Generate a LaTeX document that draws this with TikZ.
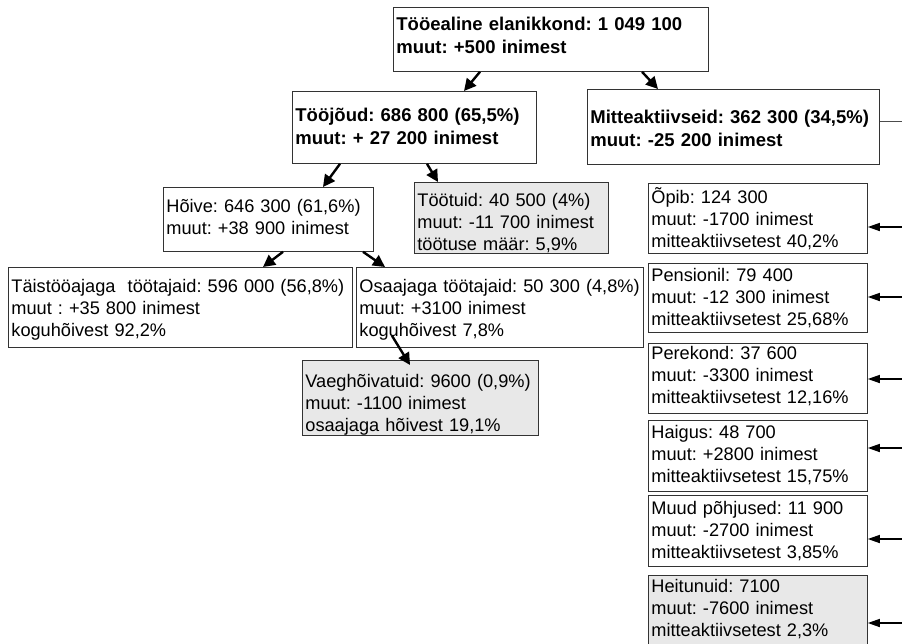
\documentclass[tikz,border=0pt]{standalone}
\usepackage{fontspec}
\setmainfont{Liberation Sans}
\usepackage{tikz}
\usetikzlibrary{arrows.meta, calc}
\frenchspacing

\begin{document}
\begin{tikzpicture}[x=1pt, y=-1pt,
    box/.style={draw=black!80, line width=0.8pt, anchor=north west, align=left, inner xsep=3pt, inner ysep=0pt, font=\fontsize{18.2}{22}\selectfont\frenchspacing},
    boldbox/.style={box, font=\fontsize{18.5}{23}\selectfont\bfseries\frenchspacing},
    graybox/.style={box, fill=gray!18},
    arrow/.style={line width=2.4pt, -{Triangle[length=12pt, width=12pt]}},
    sidearrow/.style={line width=1.5pt, -{Triangle[length=12pt, width=8pt]}},
    thinline/.style={line width=0.8pt, draw=black!70}]

    \path[use as bounding box, fill=white] (0,0) rectangle (902,643);

    % top level
    \node[boldbox, text width=309pt, text height=23pt, text depth=41pt] (total) at (393,7) {Tööealine elanikkond: 1 049 100\\muut: +500 inimest};
    \node[boldbox, text width=238pt, text height=30pt, text depth=42pt] (labour) at (292,91) {Tööjõud: 686 800 (65,5\%)\\muut: + 27 200 inimest};
    \node[boldbox, text width=286pt, text height=34pt, text depth=41pt] (inactive) at (587,89) {Mitteaktiivseid: 362 300 (34,5\%)\\muut: -25 200 inimest};

    % labour force
    \node[box, text width=204pt, text height=25pt, text depth=39pt] (employed) at (163,187) {Hõive: 646 300 (61,6\%)\\muut: +38 900 inimest};
    \node[graybox, text width=188pt, text height=24pt, text depth=47pt] (unemployed) at (414,182) {Töötuid: 40 500 (4\%)\\muut: -11 700 inimest\\töötuse määr: 5,9\%};
    \node[box, text width=338pt, text height=25pt, text depth=55pt] (fulltime) at (8,267) {Täistööajaga~ töötajaid: 596 000 (56,8\%)\\muut : +35 800 inimest\\koguhõivest 92,2\%};
    \node[box, text width=281pt, text height=25pt, text depth=55pt] (parttime) at (356,267) {Osaajaga töötajaid: 50 300 (4,8\%)\\muut: +3100 inimest\\koguhõivest 7,8\%};
    \node[graybox, text width=230pt, text height=27pt, text depth=48pt] (underemp) at (302,360) {Vaeghõivatuid: 9600 (0,9\%)\\muut: -1100 inimest\\osaajaga hõivest 19,1\%};

    % inactive
    \node[box, text width=213pt, text height=20pt, text depth=50pt] (study) at (648,183) {Õpib: 124 300\\muut: -1700 inimest\\mitteaktiivsetest 40,2\%};
    \node[box, text width=213pt, text height=18pt, text depth=51pt] (pension) at (648,263) {Pensionil: 79 400\\muut: -12 300 inimest\\mitteaktiivsetest 25,68\%};
    \node[box, text width=213pt, text height=16pt, text depth=54pt] (family) at (648,343) {Perekond: 37 600\\muut: -3300 inimest\\mitteaktiivsetest 12,16\%};
    \node[box, text width=213pt, text height=18pt, text depth=53pt] (illness) at (648,420) {Haigus: 48 700\\muut: +2800 inimest\\mitteaktiivsetest 15,75\%};
    \node[box, text width=213pt, text height=19pt, text depth=52pt] (other) at (648,495) {Muud põhjused: 11 900\\muut: -2700 inimest\\mitteaktiivsetest 3,85\%};
    \node[graybox, text width=213pt, text height=17pt, text depth=73pt] (discouraged) at (648,575) {Heitunuid: 7100\\muut: -7600 inimest\\mitteaktiivsetest 2,3\%};

    % arrows
    \draw[arrow] ([xshift=87pt]total.south west) -- ([xshift=172pt]labour.north west);
    \draw[arrow] ([xshift=249pt]total.south west) -- ([xshift=71pt]inactive.north west);
    \draw[arrow] ([xshift=48pt]labour.south west) -- ([xshift=160pt]employed.north west);
    \draw[arrow] ([xshift=135pt]labour.south west) -- ([xshift=24pt]unemployed.north west);
    \draw[arrow] ([xshift=120pt]employed.south west) -- ([xshift=255pt]fulltime.north west);
    \draw[arrow] ([xshift=200pt]employed.south west) -- ([xshift=29pt]parttime.north west);
    \draw[arrow] ([xshift=36pt, yshift=12pt]parttime.south west) -- ([xshift=108pt, yshift=-5pt]underemp.north west);

    % right edge
    \coordinate (edge) at (902,121);
    \coordinate (r1) at (902,227);
    \coordinate (r2) at (902,297);
    \coordinate (r3) at (902,379);
    \coordinate (r4) at (902,448);
    \coordinate (r5) at (902,539);
    \coordinate (r6) at (902,623);

    \draw[thinline] (inactive.east |- edge) -- (edge);
    \draw[sidearrow] (r1) -- (r1 -| study.east);
    \draw[sidearrow] (r2) -- (r2 -| pension.east);
    \draw[sidearrow] (r3) -- (r3 -| family.east);
    \draw[sidearrow] (r4) -- (r4 -| illness.east);
    \draw[sidearrow] (r5) -- (r5 -| other.east);
    \draw[sidearrow] (r6) -- (r6 -| discouraged.east);
\end{tikzpicture}
\end{document}
